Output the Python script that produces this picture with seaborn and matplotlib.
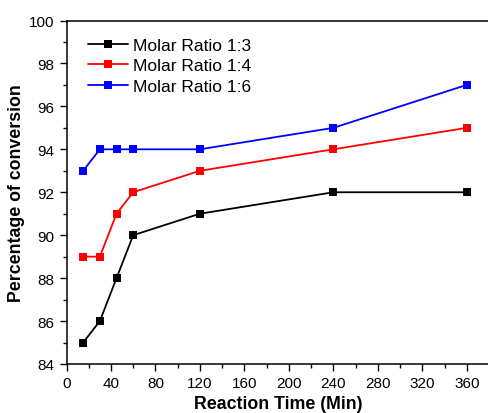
import pandas as pd
import seaborn as sns
import matplotlib.pyplot as plt
from matplotlib.ticker import MultipleLocator

time_min = [15, 30, 45, 60, 120, 240, 360]
ratio_13 = [85, 86, 88, 90, 91, 92, 92]
ratio_14 = [89, 89, 91, 92, 93, 94, 95]
ratio_16 = [93, 94, 94, 94, 94, 95, 97]
labels = ['Molar Ratio 1:3', 'Molar Ratio 1:4', 'Molar Ratio 1:6']
colors = ['black', 'red', 'blue']

df = pd.DataFrame({
    'time': time_min * 3,
    'conv': ratio_13 + ratio_14 + ratio_16,
    'series': [labels[0]] * 7 + [labels[1]] * 7 + [labels[2]] * 7,
})

sns.set_style('ticks')
plt.rcParams['font.family'] = ['Liberation Sans', 'DejaVu Sans']
plt.rcParams['text.color'] = 'black'
plt.rcParams['axes.labelcolor'] = 'black'

fig = plt.figure(figsize=(4.89, 4.14), dpi=100)
ax = fig.add_axes([66.5 / 489, 1 - 365 / 414, (489 - 66.5) / 489, (365 - 21.5) / 414])

sns.lineplot(data=df, x='time', y='conv', hue='series', palette=colors,
             marker='s', markersize=5.5, markeredgewidth=0, linewidth=1.3,
             ax=ax)

ax.set_xlim(0, 380)
ax.set_ylim(84, 100)
ax.xaxis.set_major_locator(MultipleLocator(40))
ax.xaxis.set_minor_locator(MultipleLocator(20))
ax.yaxis.set_major_locator(MultipleLocator(2))
ax.yaxis.set_minor_locator(MultipleLocator(1))
ax.tick_params(which='major', direction='out', length=5, width=1, labelsize=11, colors='black')
ax.tick_params(which='minor', direction='out', length=3, width=1, colors='black')
for s in ax.spines.values():
    s.set_linewidth(1.1)
    s.set_color('black')

ax.set_xlabel('Reaction Time (Min)', fontsize=12.8, fontweight='bold', labelpad=4)
ax.set_ylabel('Percentage of conversion', fontsize=12.8, fontweight='bold', labelpad=3)

ax.legend(title=None, frameon=False, loc='upper left', fontsize=12.5,
          handlelength=2.3, handletextpad=0.3, labelspacing=0.3,
          bbox_to_anchor=(0.014, 0.995))

fig.savefig('out.png', dpi=100)
